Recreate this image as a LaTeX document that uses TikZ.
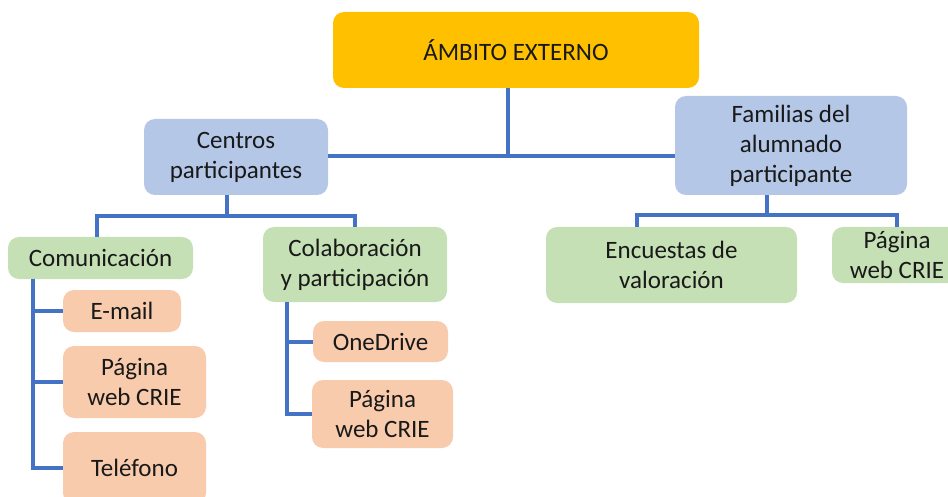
\documentclass[tikz,border=0pt]{standalone}
\usepackage{fontspec}
\setmainfont{Carlito}
\definecolor{cOrange}{HTML}{FFC000}
\definecolor{cBlue}{HTML}{B4C7E7}
\definecolor{cGreen}{HTML}{C5E0B4}
\definecolor{cPeach}{HTML}{F8CBAD}
\definecolor{cLine}{HTML}{4472C4}
\begin{document}
\begin{tikzpicture}[x=1pt,y=-1pt,
  box/.style={rounded corners=11pt, draw=none, inner sep=0pt, align=center,
    font=\fontsize{25}{30}\selectfont, text=black!90},
  conn/.style={draw=cLine, line width=4pt},
]
\useasboundingbox (0,0) rectangle (948,497);
% nodes
\node[box, fill=cOrange, minimum width=366pt, minimum height=76pt] (top) at (516,50) {ÁMBITO EXTERNO};
\node[box, fill=cBlue, minimum width=184pt, minimum height=76pt] (cent) at (236,157) {Centros\\participantes};
\node[box, fill=cBlue, minimum width=232pt, minimum height=99pt] (fam) at (791,145.5) {Familias del\\alumnado\\participante};
\node[box, fill=cGreen, minimum width=185pt, minimum height=42pt] (comu) at (100.5,258) {Comunicación};
\node[box, fill=cGreen, minimum width=184pt, minimum height=75pt] (cola) at (355,264.5) {Colaboración\\y participación};
\node[box, fill=cGreen, minimum width=251pt, minimum height=76pt] (encu) at (671.5,265) {Encuestas de\\valoración};
\node[box, fill=cGreen, minimum width=130pt, minimum height=56pt] (pagr) at (897,255) {Página\\web CRIE};
\node[box, fill=cPeach, minimum width=118pt, minimum height=42pt] (mail) at (122,311) {E-mail};
\node[box, fill=cPeach, minimum width=143pt, minimum height=72pt] (pagl) at (134.5,382) {Página\\web CRIE};
\node[box, fill=cPeach, minimum width=143pt, minimum height=72pt] (tele) at (134.5,468) {Teléfono};
\node[box, fill=cPeach, minimum width=135pt, minimum height=41pt] (oned) at (380.5,341.5) {OneDrive};
\node[box, fill=cPeach, minimum width=141pt, minimum height=68pt] (pagm) at (382.5,414) {Página\\web CRIE};
% junction coordinates
\coordinate (j0) at (508,156);
\coordinate (j1) at (227,216);
\coordinate (jl) at (97,216);
\coordinate (jr) at (355,216);
\coordinate (j2) at (767,215);
\coordinate (jfl) at (637,215);
\coordinate (jfr) at (897,215);
\coordinate (vc) at (33,279);
\coordinate (vm) at (287,302);
% connectors
\draw[conn] (top.south -| j0) -- (j0);
\draw[conn] (cent.east |- j0) -- (fam.west |- j0);
\draw[conn] (cent.south -| j1) -- (j1);
\draw[conn] (jl |- comu.north) -- (jl) -- (jr) -- (jr |- cola.north);
\draw[conn] (fam.south -| j2) -- (j2);
\draw[conn] (jfl |- encu.north) -- (jfl) -- (jfr) -- (jfr |- pagr.north);
\draw[conn] (vc) -- (vc |- tele.west) -- (tele.west);
\draw[conn] (vc |- mail.west) -- (mail.west);
\draw[conn] (vc |- pagl.west) -- (pagl.west);
\draw[conn] (vm) -- (vm |- pagm.west) -- (pagm.west);
\draw[conn] (vm |- oned.west) -- (oned.west);
\end{tikzpicture}
\end{document}
